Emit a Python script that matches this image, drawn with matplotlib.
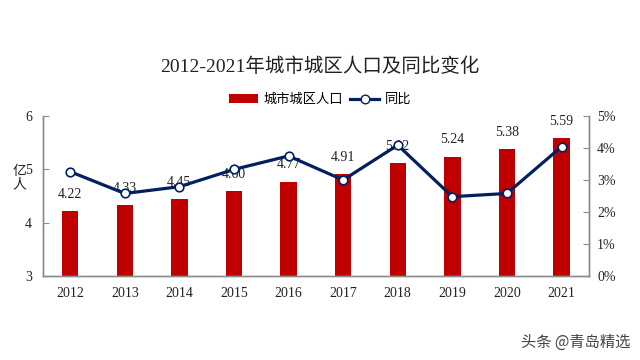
import numpy as np
import matplotlib
matplotlib.use("Agg")
import matplotlib.pyplot as plt
from matplotlib.patches import Patch
from matplotlib.lines import Line2D

plt.rcParams['font.family'] = ['Liberation Serif', 'Noto Sans CJK SC', 'DejaVu Sans']

# -----------------------------
# DATA
# -----------------------------
years = ["2012", "2013", "2014", "2015", "2016", "2017", "2018", "2019", "2020", "2021"]
population = [4.22, 4.33, 4.45, 4.60, 4.77, 4.91, 5.12, 5.24, 5.38, 5.59]   # 亿人
yoy_pct = [3.26, 2.58, 2.79, 3.33, 3.75, 3.00, 4.09, 2.48, 2.58, 4.04]      # %

bar_color = "#C00000"
line_color = "#002060"
spine_color = "#8C8C8C"

# -----------------------------
# PLOT
# -----------------------------
fig = plt.figure(figsize=(6.4, 3.6), dpi=100)
ax = fig.add_axes([0.067, 0.233, 0.853, 0.445])
ax2 = ax.twinx()

x = np.arange(len(years))
ax.bar(x, population, width=0.30, color=bar_color, zorder=2)

for xi, v in zip(x, population):
    ax.annotate(f"{v:.2f}", (xi, v), xytext=(0, 12), textcoords="offset points",
                ha="center", va="center", fontsize=10, color="#222222")

ax2.plot(x, yoy_pct, color=line_color, linewidth=2.3, marker="o",
         markersize=6.2, markerfacecolor="white", markeredgecolor=line_color,
         markeredgewidth=1.2, zorder=3)

ax.set_xlim(-0.5, len(years) - 0.5)
ax.set_ylim(3, 6)
ax.set_yticks([3, 4, 5, 6])
ax2.set_ylim(0, 5)
ax2.set_yticks([0, 1, 2, 3, 4, 5])
ax2.set_yticklabels([f"{t}%" for t in range(6)])

ax.set_xticks(x)
ax.set_xticklabels(years)

for a in (ax, ax2):
    a.spines["top"].set_visible(False)
    for s in ("left", "right", "bottom"):
        a.spines[s].set_color(spine_color)
        a.spines[s].set_linewidth(1.0)
    a.tick_params(axis="y", direction="in", length=4, color=spine_color,
                  labelsize=10, labelcolor="#222222")
ax.tick_params(axis="x", length=0, labelsize=10, labelcolor="#222222", pad=8)
ax.tick_params(axis="y", pad=8)
ax2.tick_params(axis="y", pad=6)

# vertical stacked unit label
fig.text(0.030, 0.505, "亿\n人", ha="center", va="center", fontsize=10,
         linespacing=1.05, color="#222222")

fig.text(0.5, 0.815, "2012-2021年城市城区人口及同比变化", ha="center", va="center",
         fontsize=14, color="#222222")

handles = [
    Patch(facecolor=bar_color, edgecolor="none", label="城市城区人口"),
    Line2D([0], [0], color=line_color, linewidth=2.3, marker="o", markersize=6.2,
           markerfacecolor="white", markeredgecolor=line_color, label="同比"),
]
fig.legend(handles=handles, loc="center", bbox_to_anchor=(0.5, 0.722), ncol=2,
           frameon=False, fontsize=9.5, handlelength=2.2, handleheight=0.6,
           columnspacing=0.6, handletextpad=0.4)

fig.text(0.985, 0.048, "头条 @青岛精选", ha="right", va="center", fontsize=11,
         color="#444444", family=["Noto Sans CJK SC", "DejaVu Sans"])

fig.savefig("out.png", dpi=100, facecolor="white")
